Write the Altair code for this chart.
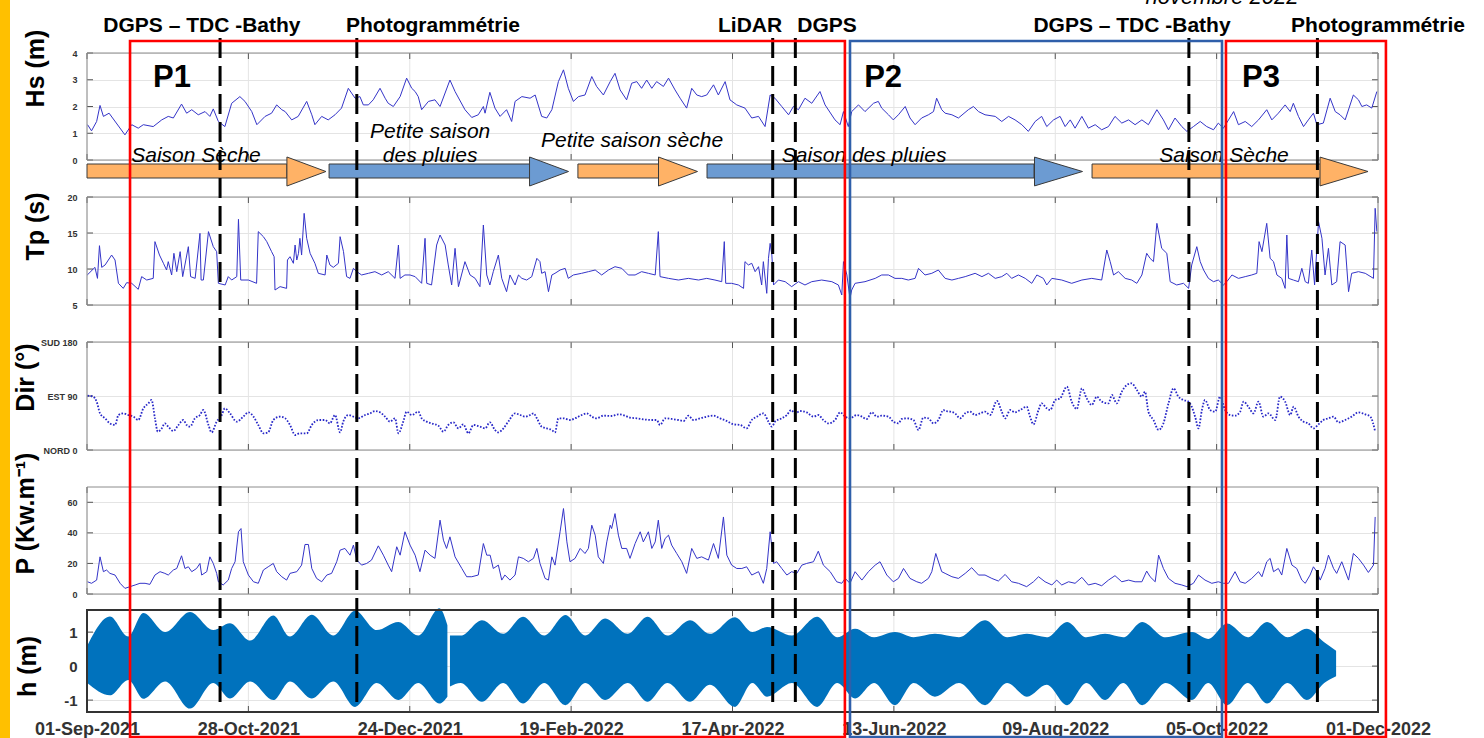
import altair as alt
import pandas as pd

# ------------------------------------------------------------------ data
# x positions are "days since 01-Sep-2021"
TICK_DAYS = [0, 57, 114, 171, 228, 285, 342, 399, 456]
TICK_LABELS = ["01-Sep-2021", "28-Oct-2021", "24-Dec-2021", "19-Feb-2022", "17-Apr-2022",
               "13-Jun-2022", "09-Aug-2022", "05-Oct-2022", "01-Dec-2022"]

HS = [(0.2,1.32),(1.6,1.09),(3.4,1.44),(4.6,2.04),(5.8,1.63),(7.8,1.75),(13.4,0.94),(15.8,1.32),(18.1,1.19),
      (19.9,1.32),(23.4,1.25),(26.4,1.50),(28.7,1.63),(30.5,1.57),(33.4,2.09),(35.2,1.75),(37.0,1.88),(39.3,1.69),
      (41.7,1.81),(43.4,1.63),(44.6,1.91),(46.4,1.44),(48.7,1.25),(51.1,2.12),(54.0,2.37),(55.8,2.19),(58.2,1.81),
      (60.0,1.32),(62.9,1.63),(65.2,1.75),(67.0,2.06),(68.8,1.88),(70.0,1.81),(72.3,1.50),(74.6,1.63),(77.6,2.19),
      (79.4,1.69),(80.5,1.32),(82.9,1.63),(85.2,1.50),(87.6,1.69),(89.9,1.94),(92.3,2.68),(94.7,2.31),(96.4,2.37),
      (97.6,2.06),(99.4,2.06),(101.1,2.25),(103.5,2.68),(105.3,2.31),(106.4,2.12),(108.2,2.00),(110.6,2.37),
      (112.9,3.06),(114.7,2.68),(115.9,2.56),(117.0,2.37),(118.2,1.88),(120.6,2.19),(122.9,2.25),(124.7,2.00),
      (128.2,2.99),(130.0,2.56),(133.5,1.88),(135.9,1.59),(138.2,1.69),(140.0,2.00),(140.6,1.75),(142.3,2.53),
      (144.1,1.94),(145.9,1.63),(148.2,1.88),(150.0,1.44),
      (151.2,2.19),(153.6,2.37),(156.5,2.31),(158.3,2.43),(160.6,1.63),(162.4,1.57),(164.2,1.88),(166.5,2.93),
      (168.3,3.37),(170.0,2.68),(171.8,2.19),(173.6,2.37),(175.9,2.43),(178.3,3.12),(180.0,2.75),(182.4,2.43),
      (184.8,2.93),(186.5,3.24),(188.3,2.62),(190.6,2.25),(192.4,2.87),(194.2,2.93),(195.9,2.68),(197.7,2.99),
      (199.5,2.68),(201.2,2.93),(203.6,2.75),(205.4,3.06),(207.7,2.62),(209.5,2.31),(211.8,1.94),(213.6,2.68),
      (215.4,2.43),(217.1,2.37),(218.9,2.43),(221.3,2.81),(223.0,2.43),(225.4,2.93),(227.1,2.25),(229.5,2.06),
      (232.4,1.94),(234.8,1.57),(237.2,1.63),(239.5,1.25),(241.3,2.43),(243.0,2.31),(245.4,2.00),(247.8,1.69),
      (249.5,2.00),(251.3,1.88),(253.6,2.31),(256.0,2.12),(258.9,2.56),(260.7,2.06),(264.2,1.50),(266.0,1.32),
      (267.2,1.81),(268.9,1.25),(270.1,1.81),(272.5,2.06),(274.8,1.81),(277.8,2.12),(279.5,2.19),(280.7,1.94),
      (283.1,1.69),(284.8,1.50),(286.6,1.69),(289.0,2.00),(290.7,1.57),(292.5,1.32),(294.8,1.57),(297.2,1.69),
      (299.0,1.81),(300.1,2.31),(301.9,1.88),
      (303.1,1.75),(305.5,1.69),(307.8,1.57),(311.3,1.88),(313.1,2.00),(314.9,1.81),(317.2,1.69),(320.8,1.63),
      (323.1,1.44),(325.5,1.63),(327.8,1.50),(330.2,1.32),(332.5,1.07),(334.9,1.44),(337.2,1.63),(339.0,1.25),
      (341.4,1.50),(343.7,1.63),(345.5,1.25),(347.3,1.50),(349.0,1.19),(351.4,1.63),(353.7,1.19),(356.1,1.32),
      (358.4,1.13),(360.8,1.25),(363.1,1.63),(365.5,1.38),(367.9,1.50),(370.2,1.32),(372.6,1.50),(374.9,1.32),
      (377.9,1.88),(380.2,1.50),(382.0,1.13),(384.3,1.57),(386.7,1.25),(388.5,1.07),(390.8,1.25),(393.2,1.44),
      (395.5,1.25),(397.9,1.13),(399.6,1.38),(401.4,1.19),(403.2,1.50),(405.0,1.81),(406.7,1.32),(409.1,1.44),
      (411.4,1.25),(413.8,1.50),(416.7,1.88),(418.5,1.50),(420.8,1.75),(423.2,2.06),(425.0,1.81),(426.1,2.12),
      (427.9,1.63),(429.7,1.25),(431.4,1.50),(433.2,1.75),(434.4,1.32),(436.7,1.38),(439.1,2.31),(440.9,1.81),
      (442.6,1.69),(444.4,1.50),(447.3,2.43),(449.1,2.25),(450.3,2.00),(452.0,2.06),(453.8,1.94),(455.6,2.56)]

TP = [(0.1,9.17),(2.8,10.23),(3.7,8.70),(4.4,13.24),(5.2,10.23),(6.4,10.56),(8.7,11.94),(9.9,11.25),(11.1,8.01),
      (12.8,7.31),(14.0,8.10),(15.8,8.01),(18.1,7.18),(19.3,8.94),(21.1,8.47),(23.4,8.70),(24.0,13.80),(25.6,11.94),
      (27.0,10.79),(28.1,9.86),(28.7,11.02),(29.9,9.17),(30.7,12.18),(31.7,9.63),(32.9,12.41),(33.8,8.94),
      (35.8,13.10),(36.6,8.94),(38.2,8.70),(39.9,14.95),(40.3,8.47),(41.1,8.47),(42.9,15.19),(44.6,13.10),
      (45.8,12.41),(46.4,8.01),(48.8,7.78),(49.9,8.94),(51.1,8.47),(52.9,8.94),(53.5,16.90),(54.3,8.47),(57.0,8.47),
      (59.9,8.01),(60.5,15.19),(62.3,14.49),(63.5,13.80),(65.2,12.41),(66.1,11.71),(66.4,7.08),(68.2,7.55),
      (70.5,7.31),(70.8,11.25),(71.7,11.71),(72.9,10.79),(73.5,13.33),(74.1,11.25),(74.7,12.18),(75.2,14.26),
      (75.8,11.94),(76.7,17.73),(77.6,14.26),(78.8,12.18),(80.5,10.79),(81.7,9.40),(84.1,9.17),(84.7,11.94),
      (85.8,10.56),(87.0,10.23),(88.8,10.79),(89.4,14.49),(90.6,12.41),(91.7,8.94),(92.9,8.70),(94.1,10.09),
      (95.3,9.63),(97.0,9.17),(99.4,9.40),(101.7,9.63),(104.1,9.17),(106.4,9.63),(108.8,8.70),(110.0,13.33),
      (110.6,8.70),(112.3,9.17),(114.1,9.17),(115.9,8.94),(118.2,8.01),(119.4,14.26),(120.0,8.01),(121.7,7.78),
      (123.5,13.33),(124.7,14.72),(126.5,13.33),(127.6,10.56),(128.8,7.78),(130.0,12.87),(131.2,7.55),
      (133.5,11.02),(135.3,9.17),(137.1,8.70),(138.8,7.55),(140.0,16.11),(141.2,9.17),(142.3,7.78),(143.5,9.63),
      (145.3,11.94),(146.5,8.70),(148.2,6.85),(149.4,9.17),
      (151.2,7.78),(152.4,9.17),(153.6,8.70),(155.3,8.47),(157.1,8.94),(158.9,11.48),(160.0,11.02),(160.6,9.40),
      (161.8,9.63),(163.0,6.85),(164.2,9.17),(165.3,9.40),(167.1,9.86),(168.9,10.09),(170.0,8.70),(171.8,9.17),
      (174.7,9.40),(177.1,9.63),(179.5,9.86),(181.8,9.17),(184.2,9.86),(186.5,10.32),(188.9,10.09),(191.2,9.17),
      (193.6,9.17),(195.9,9.63),(198.3,9.40),(200.7,9.17),(201.8,15.19),(202.4,8.94),(205.4,8.70),(208.9,8.47),
      (212.4,8.70),(216.0,8.47),(218.9,8.70),(221.8,8.47),(224.2,8.24),(225.1,13.80),(225.6,8.01),(227.7,8.01),
      (230.1,7.78),(231.9,7.31),(232.4,11.02),(233.6,10.56),(234.8,10.79),(236.0,9.63),(237.2,10.32),(238.3,7.78),
      (238.9,11.02),(240.1,6.62),(240.7,11.48),(241.3,13.56),(241.9,11.94),(242.5,7.78),(244.2,8.47),(246.6,8.24),
      (248.9,7.55),(251.3,8.24),(253.6,7.78),(256.0,8.24),(259.5,8.47),(263.1,8.24),(265.4,7.78),(266.6,6.39),
      (267.2,11.02),(268.4,9.17),(269.5,5.93),(270.1,7.08),(271.3,8.01),(274.8,8.24),(278.4,8.70),(280.7,9.17),
      (283.1,9.17),(285.4,8.70),(287.8,8.70),(290.1,8.47),(292.5,8.70),(293.7,10.09),(296.0,9.17),(298.4,9.40),
      (300.7,9.86),
      (303.1,8.70),(305.5,8.47),(307.8,8.70),(310.2,8.94),(313.7,9.40),(316.1,8.94),(318.4,9.40),(320.8,8.70),
      (323.1,8.94),(324.9,9.40),(326.6,8.70),(329.0,9.17),(331.4,8.70),(333.7,8.01),(335.5,9.17),(337.8,8.70),
      (339.0,7.78),(340.8,8.70),(344.3,8.47),(347.8,8.01),(351.4,8.47),(354.9,8.70),(358.4,8.47),(360.2,12.64),
      (361.4,11.02),(362.6,9.17),(364.3,9.63),(366.7,8.70),(369.0,8.47),(370.8,8.01),(372.6,9.17),(374.3,12.18),
      (375.5,11.48),(376.7,11.02),(377.9,16.34),(379.6,12.87),(381.4,12.18),(382.6,8.24),(384.9,7.78),(387.3,8.01),
      (389.1,7.31),(390.2,10.56),(392.0,13.10),(393.2,11.02),(394.4,9.86),(396.1,8.70),(397.9,8.24),(399.6,8.47),
      (401.4,7.78),(402.6,8.24),(404.4,9.17),(406.7,8.70),(409.1,8.94),(411.4,9.17),(413.2,9.40),(414.0,13.80),
      (415.0,12.41),(416.7,16.34),(417.9,11.48),(419.1,11.02),(420.3,9.17),(422.0,8.70),(423.2,7.31),(423.8,14.72),
      (424.4,8.70),(426.1,8.47),(427.9,8.24),(429.1,10.09),(430.3,8.24),(431.4,8.01),(432.6,12.64),(433.6,7.78),
      (435.0,16.57),(436.2,14.26),(437.3,9.17),(438.5,12.87),(439.7,7.78),(441.4,8.24),(442.6,13.80),(444.4,13.33),
      (445.6,6.85),(446.7,9.40),(449.1,9.63),(451.5,9.40),(454.4,8.70),(455.0,18.43),(455.6,15.19)]

DIR = [(0.2,90.6),(2.2,88.9),(3.4,80.6),(4.6,61.1),(6.4,52.8),(8.1,44.4),(9.9,41.7),(11.1,58.3),(12.8,61.1),
       (14.6,58.3),(16.4,55.6),(18.1,50.0),(19.9,69.4),(21.7,77.8),(22.8,83.3),(24.0,52.8),(25.0,30.6),(26.4,36.1),
       (27.5,44.4),(28.7,38.9),(30.5,31.7),(32.3,41.7),(34.0,50.0),(35.2,41.7),(36.4,38.9),(38.1,52.8),(39.9,58.3),
       (41.1,66.7),(42.9,41.7),(44.0,29.4),(45.8,47.2),(47.6,58.3),(48.7,69.4),(50.5,61.1),(52.9,47.2),(55.2,55.6),
       (57.0,62.8),(58.8,55.6),(60.5,41.7),(62.3,27.8),(64.0,29.4),(65.8,50.0),(68.2,55.6),(70.0,52.8),(71.7,41.7),
       (73.5,25.0),(75.2,27.8),(77.6,27.8),(79.4,41.7),(81.7,50.0),(84.1,50.0),(85.8,44.4),(87.6,58.3),(89.4,29.4),
       (90.5,47.2),(92.3,58.3),(94.1,55.6),(95.8,52.8),(98.2,58.3),(100.0,61.1),(101.7,65.0),(103.5,62.8),
       (105.3,55.6),(107.0,47.2),(108.8,52.8),(110.0,27.8),(111.7,47.2),(112.9,63.9),(114.7,58.3),(117.0,63.9),
       (118.2,52.8),(120.0,47.2),(121.7,44.4),(124.1,40.6),(125.9,30.6),(127.6,41.7),(129.4,46.1),(131.2,36.1),
       (132.9,42.8),(134.7,27.8),(136.5,41.7),(138.8,38.9),(140.6,36.1),(142.3,46.1),(144.1,33.3),(145.3,29.4),
       (147.1,36.1),(148.8,47.2),
       (151.2,61.1),(153.0,58.3),(154.7,55.6),(156.5,58.3),(157.7,61.1),(158.9,52.8),(160.6,38.9),(162.4,36.1),
       (164.2,33.3),(165.3,29.4),(166.5,52.8),(168.3,52.8),(170.6,50.0),(172.4,52.8),(174.7,58.3),(176.5,61.1),
       (178.3,55.6),(180.0,52.8),(182.4,57.2),(185.3,56.7),(187.7,59.4),(190.1,57.2),(191.8,53.9),(194.2,52.8),
       (196.5,51.1),(199.5,50.0),(201.2,50.0),(202.4,41.7),(204.2,52.8),(206.5,51.7),(208.9,50.0),(210.7,48.3),
       (212.4,57.2),(214.2,50.0),(216.5,52.8),(218.9,55.6),(221.3,57.2),(223.6,52.8),(226.0,48.3),(228.3,42.8),
       (230.7,41.7),(233.0,36.1),(234.8,50.0),(236.6,55.6),(238.9,61.1),(240.7,47.2),(241.9,38.9),(243.0,47.2),
       (245.4,52.8),(247.2,58.3),(248.7,66.7),(250.1,61.1),(251.9,65.0),(254.2,62.8),(256.6,55.6),(258.3,58.3),
       (260.1,50.0),(261.9,44.4),(264.2,50.0),(266.0,62.8),(267.8,55.6),(269.5,52.8),(271.9,58.3),(273.7,55.6),
       (275.4,51.7),(277.2,62.8),(279.0,55.6),(280.7,57.2),(283.1,55.6),(284.8,47.2),(286.6,44.4),(287.8,51.7),
       (289.6,52.8),(291.9,50.0),(293.7,33.3),(295.4,53.9),(297.2,52.8),(299.0,44.4),(300.7,50.0),(302.5,66.7),
       (303.1,65.0),(304.9,63.9),(306.6,61.1),(308.4,52.8),(310.2,61.1),(311.9,63.9),(313.7,58.3),(315.5,61.1),
       (317.2,63.9),(319.0,58.3),(321.4,81.7),(323.1,63.9),(324.3,52.8),(326.1,66.7),(327.8,62.8),(329.6,66.7),
       (331.9,72.2),(333.1,55.6),(334.3,42.8),(336.1,66.7),(337.2,77.8),(339.0,69.4),(340.2,66.7),(342.0,83.3),
       (343.7,86.1),(346.1,105.6),(347.8,80.6),(349.6,68.3),(351.4,102.8),(353.1,86.1),(354.9,75.0),(356.7,88.9),
       (358.4,80.6),(360.8,77.8),(362.0,91.7),(363.7,77.8),(365.5,97.2),(367.3,108.3),(369.0,111.1),(370.8,100.0),
       (372.6,88.9),(373.7,97.2),(374.9,63.9),(376.7,50.0),(378.5,33.3),(380.2,44.4),(382.0,77.8),(383.8,102.8),
       (385.5,88.9),(387.3,83.3),(389.1,80.6),(390.2,72.2),(391.4,55.6),(392.6,36.1),(393.8,66.7),(394.9,83.3),
       (396.7,66.7),(398.5,63.9),(400.2,88.9),(402.0,66.7),(403.8,58.3),(405.5,57.2),(407.3,63.9),(408.5,80.6),
       (410.2,72.2),(412.0,61.1),(413.8,80.6),(415.5,55.6),(417.3,61.1),(419.7,50.0),(421.4,88.9),(423.2,80.6),
       (425.0,58.3),(426.2,72.2),(427.9,55.6),(429.7,47.2),(431.4,44.4),(433.2,36.1),(435.0,42.8),(436.7,50.0),
       (438.5,52.8),(440.3,55.6),(442.0,46.1),(444.4,50.0),(446.7,55.6),(449.1,62.8),(451.5,59.4),(453.3,55.6),
       (455.0,30.6)]

PW = [(0.2,8.0),(1.6,7.0),(3.4,9.1),(4.6,24.3),(5.8,14.6),(6.9,15.7),(8.1,13.5),(9.9,12.4),(11.7,7.0),(13.4,3.7),
      (15.2,4.8),(17.0,5.9),(18.7,7.0),(20.5,7.0),(22.2,6.3),(24.0,12.4),(25.8,14.6),(27.5,13.5),(28.7,12.4),
      (30.5,15.7),(31.7,16.7),(33.4,25.0),(34.6,16.7),(35.8,17.8),(37.0,14.6),(38.7,16.7),(39.9,20.0),(40.5,12.4),
      (42.3,14.6),(43.4,24.3),(44.6,20.0),(45.8,13.5),(46.4,8.0),(48.1,5.9),(49.9,9.1),(51.1,16.7),(52.3,21.1),
      (53.5,40.7),(54.4,42.8),(55.2,21.1),(57.0,12.4),(58.8,8.0),(60.5,7.0),(62.3,15.7),(64.0,17.8),(65.8,20.0),
      (67.0,14.6),(68.8,11.3),(70.5,9.1),(71.7,13.5),(74.1,14.6),(75.8,18.9),(77.0,32.4),(78.2,32.4),(79.4,16.7),
      (81.1,10.2),(82.9,8.0),(84.7,12.4),(86.4,13.5),(88.2,21.1),(89.4,28.7),(91.1,29.8),(92.9,25.4),(94.1,32.0),
      (95.3,22.2),(97.0,18.9),(98.8,20.0),(100.5,22.2),(102.9,31.5),(104.7,25.4),(106.4,18.9),(107.6,14.6),
      (109.4,30.9),(110.6,25.4),(112.3,40.7),(114.1,32.0),(115.9,25.4),(117.6,14.6),(119.4,28.7),(121.2,25.4),
      (122.9,23.3),(124.7,48.3),(125.9,35.2),(127.0,29.8),(128.2,37.4),(130.0,24.3),(132.4,16.7),(134.1,11.3),
      (135.9,11.3),(138.2,12.4),(140.0,33.0),(141.2,25.4),(142.4,25.4),(143.5,16.7),(145.3,18.9),(146.5,9.1),
      (147.6,12.4),(149.4,9.1),
      (151.2,12.4),(152.4,24.3),(154.1,23.3),(155.9,21.1),(157.7,23.3),(158.9,29.8),(160.0,20.0),(161.8,10.2),
      (163.0,9.1),(164.2,24.3),(165.3,18.9),(167.1,40.7),(168.3,55.9),(169.5,34.1),(170.6,21.1),(172.4,23.3),
      (174.2,29.8),(175.9,26.5),(177.1,29.8),(178.3,45.0),(179.5,38.5),(180.6,24.3),(182.4,20.0),(183.6,34.1),
      (184.8,45.0),(185.3,42.8),(186.5,52.6),(187.7,38.5),(188.9,29.8),(190.6,29.8),(191.8,23.3),(193.6,33.0),
      (195.4,40.7),(196.5,34.1),(198.3,40.7),(199.5,29.8),(200.7,34.1),(201.8,48.3),(203.0,29.8),(204.2,36.3),
      (205.4,38.5),(206.5,32.0),(208.3,26.5),(210.1,21.1),(211.8,13.5),(213.6,29.8),(215.4,23.3),(217.1,24.3),
      (219.5,22.2),(221.3,33.0),(223.0,23.3),(224.8,50.4),(226.0,25.4),(227.7,18.9),(229.5,16.7),(231.3,16.7),
      (233.0,17.8),(234.8,12.4),(237.2,14.6),(238.9,7.0),(240.1,16.7),(241.3,40.7),(242.5,20.0),(243.6,21.1),
      (245.4,16.7),(247.2,12.4),(248.9,14.6),(250.7,13.5),(252.5,18.9),(254.2,20.0),(256.6,21.1),(258.3,28.0),
      (260.1,18.9),(262.5,14.6),(264.8,8.0),(266.6,7.0),(267.8,10.2),(269.5,7.0),(271.3,14.6),(273.7,9.1),
      (276.0,14.6),(278.4,18.9),(280.1,21.1),(282.5,12.4),(284.8,8.0),(286.6,10.2),(288.4,16.7),(290.7,10.2),
      (293.1,8.0),(294.8,7.0),(297.2,10.2),(298.4,14.6),(299.8,26.5),(301.9,14.6),
      (303.1,13.5),(305.5,11.3),(307.8,10.2),(310.2,13.5),(312.5,17.2),(314.9,12.4),(317.2,12.4),(319.6,10.2),
      (321.9,8.5),(324.3,12.8),(326.6,8.0),(329.0,7.0),(331.9,4.8),(334.3,8.0),(336.1,11.3),(338.4,8.0),(340.8,5.9),
      (342.5,9.1),(344.3,5.9),(346.7,8.0),(349.0,7.0),(351.4,10.9),(353.7,5.9),(356.1,7.0),(358.4,5.4),(360.8,9.1),
      (363.1,12.0),(365.5,8.0),(367.9,9.1),(370.2,8.0),(372.6,8.0),(374.3,15.0),(375.5,11.3),(377.3,8.0),
      (378.5,25.4),(380.2,16.7),(382.0,10.2),(384.3,7.0),(386.7,5.9),(388.5,4.8),(390.8,7.0),(392.6,12.4),
      (394.9,9.1),(397.3,7.0),(399.6,8.0),(401.4,7.0),(403.2,7.0),(405.5,14.6),(407.3,8.0),(409.1,7.0),(411.4,10.2),
      (413.8,14.6),(415.0,11.3),(416.7,21.1),(417.9,23.3),(419.1,14.6),(420.8,16.7),(422.0,12.4),(423.8,29.8),
      (425.6,18.9),(427.3,16.7),(429.1,9.1),(430.3,7.0),(432.0,12.4),(433.2,17.8),(434.4,14.6),(435.6,9.1),
      (437.3,16.7),(438.5,25.4),(440.3,16.7),(441.4,13.5),(443.2,21.1),(445.6,9.1),(447.3,26.5),(449.1,23.3),
      (450.9,18.9),(452.6,14.1),(454.4,18.9),(455.0,50.4)]

# tide envelope (upper / lower edge of the filled band), two recordings
TIDE = [(0.1,0.60,-0.50,"a"),(8.1,1.46,-0.86,"a"),(14.6,0.87,-0.41,"a"),(19.9,1.56,-0.96,"a"),(27.6,1.00,-0.45,"a"),
        (36.4,1.59,-1.25,"a"),(44.6,1.06,-0.50,"a"),(50.5,1.26,-0.95,"a"),(57.6,0.75,-0.45,"a"),(65.8,1.49,-1.00,"a"),
        (71.7,0.87,-0.45,"a"),(79.4,1.51,-0.95,"a"),(87.0,0.90,-0.45,"a"),(94.7,1.63,-1.20,"a"),(102.3,1.06,-0.50,"a"),
        (110.0,1.30,-1.00,"a"),(117.0,0.90,-0.50,"a"),(124.5,1.70,-1.10,"a"),(127.3,1.20,-0.90,"a"),
        (128.2,0.90,-0.60,"b"),(132.0,0.90,-0.50,"b"),(139.5,1.35,-1.05,"b"),(147.0,0.95,-0.50,"b"),(154.0,1.45,-1.10,"b"),
        (161.5,0.90,-0.50,"b"),(169.0,1.50,-1.15,"b"),(176.0,0.90,-0.50,"b"),(183.0,1.40,-1.00,"b"),(191.0,0.95,-0.50,"b"),
        (198.0,1.45,-1.05,"b"),(205.0,0.90,-0.50,"b"),(213.0,1.35,-1.05,"b"),(220.0,0.95,-0.55,"b"),(228.9,1.44,-1.20,"b"),
        (235.0,1.00,-0.50,"b"),(240.2,1.15,-0.90,"b"),(249.0,0.90,-0.50,"b"),(257.9,1.45,-1.20,"b"),(265.0,0.85,-0.50,"b"),
        (271.3,1.10,-0.95,"b"),(278.0,0.85,-0.50,"b"),(285.4,1.00,-1.15,"b"),(292.0,0.85,-0.50,"b"),(299.5,0.95,-0.90,"b"),
        (308.0,0.85,-0.50,"b"),(317.2,1.35,-1.15,"b"),(325.0,0.85,-0.50,"b"),(332.0,0.95,-0.90,"b"),(339.0,0.85,-0.55,"b"),
        (346.2,1.30,-1.15,"b"),(353.0,0.85,-0.50,"b"),(359.6,0.95,-1.00,"b"),(366.0,0.85,-0.50,"b"),(372.7,1.30,-1.15,"b"),
        (381.0,0.85,-0.50,"b"),(390.3,1.00,-1.00,"b"),(396.0,0.80,-0.50,"b"),(402.7,1.25,-1.15,"b"),(410.0,0.85,-0.50,"b"),
        (416.8,1.30,-1.10,"b"),(424.0,0.85,-0.50,"b"),(430.9,1.10,-1.00,"b"),(437.0,0.70,-0.50,"b"),(441.2,0.45,-0.30,"b")]

EVENT_DAYS = [47.0, 95.3, 242.2, 250.2, 389.2, 434.6]
EVENT_LABELS = ["DGPS – TDC -Bathy", "Photogrammétrie", "LiDAR", "DGPS", "DGPS – TDC -Bathy", "Photogrammétrie"]
EVENT_LABEL_DAYS = [40.6, 122.2, 234.2, 261.4, 369.1, 456.0]

PERIODS = ["P1", "P2", "P3"]
PERIOD_START = [15.2, 269.5, 402.3]
PERIOD_END = [267.7, 400.9, 458.8]
PERIOD_LABEL_DAYS = [30.0, 281.2, 414.7]

ARROW_KIND = ["sec", "pluie", "sec", "pluie", "sec"]
ARROW_START = [0.0, 85.5, 173.4, 219.0, 355.0]
ARROW_BODY_END = [70.6, 156.5, 202.0, 334.5, 435.9]
ARROW_TIP = [84.4, 169.9, 215.5, 351.8, 452.1]

SEASON_TEXT = ["Saison Sèche", "Petite saison", "des pluies", "Petite saison sèche", "Saison des pluies", "Saison Sèche"]
SEASON_DAYS = [38.5, 121.2, 121.2, 192.5, 274.5, 401.6]
SEASON_LINE = ["low", "high", "low", "mid", "low", "low"]

# ------------------------------------------------------------------ layout / style
FONT = "Liberation Sans"
W, H = 1291, 712
LINE = "#3434c8"
XS = alt.Scale(domain=[0, 456], nice=False, zero=False)

label_expr = " : ".join(f"round(datum.value) == {d} ? '{s}'" for d, s in zip(TICK_DAYS, TICK_LABELS)) + " : ''"

# one identical axis definition on every layer that uses the shared x scale, so that they merge into one
XAXIS = alt.Axis(values=TICK_DAYS, labelExpr=label_expr, title=None, labelFont=FONT, labelFontSize=18,
                 labelFontWeight="bold", labelColor="#333333", labelPadding=8, ticks=False, domain=False,
                 grid=False, labelFlush=False, labelOverlap=False, orient="bottom")

def X(field="day"):
    return alt.X(f"{field}:Q", scale=XS, axis=XAXIS)

one = pd.DataFrame({"k": [0]})
ticks_df = pd.DataFrame({"day": TICK_DAYS})

PANELS = {
    "hs": dict(dom=[0, 4], rng=[160, 53], vals=[0, 1, 2, 3, 4], title="Hs (m)", ty=68, tx=-44, lfs=9),
    "tp": dict(dom=[5, 20], rng=[305, 197], vals=[5, 10, 15, 20], title="Tp (s)", ty=226, tx=-44, lfs=9),
    "dir": dict(dom=[0, 180], rng=[450, 342], vals=[0, 90, 180], title="Dir (°)", ty=377, tx=-54, lfs=9,
                expr="datum.value == 180 ? 'SUD  180' : datum.value == 90 ? 'EST  90' : 'NORD  0'"),
    "p": dict(dom=[0, 70], rng=[594, 487], vals=[0, 20, 40, 60], title="P (Kw.m⁻¹)", ty=513, tx=-54, lfs=9),
    "h": dict(dom=[-1.35, 1.65], rng=[712, 610], vals=[-1, 0, 1], title="h (m)", ty=666, tx=-52, lfs=15,
              expr="datum.value < 0 ? '-1' : datum.label"),
}

def yscale(p):
    return alt.Scale(domain=p["dom"], range=p["rng"], nice=False, zero=False)

def yaxis(p):
    kw = dict(values=p["vals"], title=p["title"], orient="left", titleX=p["tx"], titleY=p["ty"],
              titleAngle=270, titleAlign="center", titleBaseline="alphabetic", titleFont=FONT,
              titleFontSize=25, titleFontWeight="bold", titleColor="#000000", labelFont=FONT,
              labelFontSize=p["lfs"], labelFontWeight="bold", labelColor="#333333", labelPadding=10,
              ticks=False, domain=False, grid=True, gridColor="#e4e4e4", gridWidth=1,
              labelFlush=False, labelOverlap=False)
    if "expr" in p:
        kw["labelExpr"] = p["expr"]
    return alt.Axis(**kw)

layers = []

# yellow band on the left edge of the slide
layers.append(alt.Chart(one).mark_rect(color="#FFC000").encode(
    x=alt.value(-87), x2=alt.value(-77), y=alt.value(0), y2=alt.value(738)))

# panel grids and ticks
for key, p in PANELS.items():
    bot, top = p["rng"]
    layers.append(alt.Chart(ticks_df).mark_rule(color="#e4e4e4", strokeWidth=1).encode(
        x=X(), y=alt.value(top), y2=alt.value(bot)))
    tick_col = "#555555"
    layers.append(alt.Chart(ticks_df).mark_rule(color=tick_col, strokeWidth=1).encode(
        x=X(), y=alt.value(top), y2=alt.value(top + 6)))
    layers.append(alt.Chart(ticks_df).mark_rule(color=tick_col, strokeWidth=1).encode(
        x=X(), y=alt.value(bot - 6), y2=alt.value(bot)))
    vdf = pd.DataFrame({"v": p["vals"]})
    layers.append(alt.Chart(vdf).mark_rule(color=tick_col, strokeWidth=1).encode(
        y=alt.Y("v:Q", scale=yscale(p), axis=None), x=alt.value(0), x2=alt.value(6)))
    layers.append(alt.Chart(vdf).mark_rule(color=tick_col, strokeWidth=1).encode(
        y=alt.Y("v:Q", scale=yscale(p), axis=None), x=alt.value(W - 6), x2=alt.value(W)))

# data series
hs_df = pd.DataFrame(HS, columns=["day", "v"])
tp_df = pd.DataFrame(TP, columns=["day", "v"])
dir_df = pd.DataFrame(DIR, columns=["day", "v"])
pw_df = pd.DataFrame(PW, columns=["day", "v"])
tide_df = pd.DataFrame(TIDE, columns=["day", "hi", "lo", "seg"])

layers.append(alt.Chart(hs_df).mark_line(color=LINE, strokeWidth=1).encode(
    x=X(), y=alt.Y("v:Q", scale=yscale(PANELS["hs"]), axis=yaxis(PANELS["hs"]))))
layers.append(alt.Chart(tp_df).mark_line(color=LINE, strokeWidth=1).encode(
    x=X(), y=alt.Y("v:Q", scale=yscale(PANELS["tp"]), axis=yaxis(PANELS["tp"]))))
layers.append(alt.Chart(dir_df).mark_line(color="#2828c8", strokeWidth=1.8, strokeDash=[1.6, 1.6],
                                          interpolate="monotone").encode(
    x=X(), y=alt.Y("v:Q", scale=yscale(PANELS["dir"]), axis=yaxis(PANELS["dir"]))))
layers.append(alt.Chart(pw_df).mark_line(color=LINE, strokeWidth=1).encode(
    x=X(), y=alt.Y("v:Q", scale=yscale(PANELS["p"]), axis=yaxis(PANELS["p"]))))
layers.append(alt.Chart(tide_df).mark_area(color="#0072BD", interpolate="monotone", opacity=1).encode(
    x=X(), y=alt.Y("hi:Q", scale=yscale(PANELS["h"]), axis=yaxis(PANELS["h"])),
    y2="lo:Q", detail="seg:N"))

# frames on top of the data
for key, p in PANELS.items():
    bot, top = p["rng"]
    dark = key == "h"
    layers.append(alt.Chart(one).mark_rect(fillOpacity=0, stroke="#333333" if dark else "#8c8c8c",
                                           strokeWidth=2 if dark else 1).encode(
        x=alt.value(0), x2=alt.value(W), y=alt.value(top), y2=alt.value(bot)))

# season arrows
arrows = pd.DataFrame({"kind": ARROW_KIND, "start": ARROW_START, "end": ARROW_BODY_END, "tip": ARROW_TIP})
arrows["mid"] = (arrows["end"] + arrows["tip"]) / 2
arrows["long"] = (arrows["tip"] - arrows["end"]) > 15
fill_scale = alt.Scale(domain=["sec", "pluie"], range=["#FFB266", "#6C9BD2"])
layers.append(alt.Chart(arrows).mark_rect(stroke="#3a3a3a", strokeWidth=1).encode(
    x=X("start"), x2="end:Q", y=alt.value(164), y2=alt.value(178),
    fill=alt.Fill("kind:N", scale=fill_scale, legend=None)))
layers.append(alt.Chart(arrows).transform_filter("!datum.long").mark_point(
    shape="M-1,-0.744L1,0L-1,0.744Z", size=1521, filled=True, opacity=1, stroke="#3a3a3a", strokeWidth=1).encode(
    x=X("mid"), y=alt.value(171.5), fill=alt.Fill("kind:N", scale=fill_scale, legend=None)))
layers.append(alt.Chart(arrows).transform_filter("datum.long").mark_point(
    shape="M-1,-0.6L1,0L-1,0.6Z", size=2304, filled=True, opacity=1, stroke="#3a3a3a", strokeWidth=1).encode(
    x=X("mid"), y=alt.value(171.5), fill=alt.Fill("kind:N", scale=fill_scale, legend=None)))

# season labels
seasons = pd.DataFrame({"text": SEASON_TEXT, "day": SEASON_DAYS, "line": SEASON_LINE})
for line, ypix in [("low", 162), ("high", 138), ("mid", 147)]:
    layers.append(alt.Chart(seasons).transform_filter(f"datum.line == '{line}'").mark_text(
        font=FONT, fontSize=21, fontStyle="italic", color="#000000", baseline="alphabetic", align="center").encode(
        x=X(), y=alt.value(ypix), text="text:N"))

# measurement campaigns (dashed lines)
events = pd.DataFrame({"day": EVENT_DAYS})
layers.append(alt.Chart(events).mark_rule(color="#000000", strokeWidth=3, strokeDash=[20, 8]).encode(
    x=X(), y=alt.value(38), y2=alt.value(708)))

# periods
periods = pd.DataFrame({"p": PERIODS, "start": PERIOD_START, "end": PERIOD_END, "lab": PERIOD_LABEL_DAYS})
layers.append(alt.Chart(periods).mark_rect(fillOpacity=0, strokeWidth=2.6).encode(
    x=X("start"), x2="end:Q", y=alt.value(41), y2=alt.value(737),
    stroke=alt.Stroke("p:N", scale=alt.Scale(domain=PERIODS, range=["#FF0000", "#2F5FAA", "#FF0000"]),
                      legend=None)))
layers.append(alt.Chart(periods).mark_text(font=FONT, fontSize=31, fontWeight="bold", color="#000000",
                                           baseline="alphabetic", align="center").encode(
    x=X("lab"), y=alt.value(87), text="p:N"))

# campaign labels
ev_lab = pd.DataFrame({"day": EVENT_LABEL_DAYS, "text": EVENT_LABELS})
layers.append(alt.Chart(ev_lab).mark_text(font=FONT, fontSize=21, fontWeight="bold", color="#000000",
                                          baseline="alphabetic", align="center").encode(
    x=X(), y=alt.value(32), text="text:N"))

# cut-off caption at the top right of the slide
cap = pd.DataFrame({"day": [400.9], "text": ["novembre 2022"]})
layers.append(alt.Chart(cap).mark_text(font=FONT, fontSize=22, fontStyle="italic", color="#000000",
                                       baseline="alphabetic", align="center").encode(
    x=X(), y=alt.value(4), text="text:N"))

chart = alt.layer(*layers).resolve_scale(y="independent").properties(
    width=W, height=H,
    padding={"left": 87, "top": 0, "right": 106, "bottom": 26},
    autosize=alt.AutoSizeParams(type="none", contains="content"),
    background="#ffffff",
).configure_view(strokeWidth=0)

chart.save("out.html", embed_options={"renderer": "svg", "actions": False})
